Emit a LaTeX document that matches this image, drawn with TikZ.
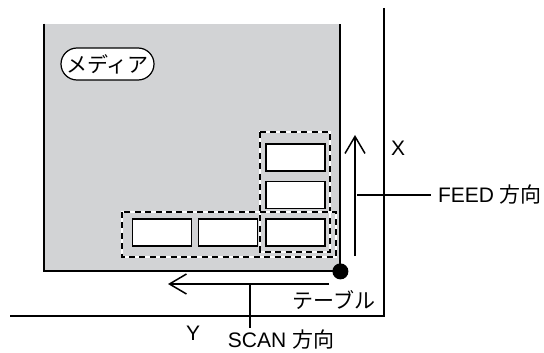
\documentclass[tikz,border=0pt]{standalone}
\usepackage{fontspec}
\setmainfont{Liberation Sans}
\newfontfamily\jp{Noto Sans CJK JP}
\usetikzlibrary{positioning,arrows.meta}
\definecolor{mediagray}{RGB}{210,211,213}

\begin{document}
\begin{tikzpicture}[
    x=0.5pt, y=-0.5pt,
    every node/.style={font=\fontsize{10.5}{12}\selectfont},
    medium/.style={fill=mediagray, minimum width=148pt, minimum height=123.5pt, inner sep=0pt},
    cell/.style={draw, fill=white, line width=0.6pt, minimum width=29.5pt, minimum height=13.5pt, inner sep=0pt},
    grp/.style={draw, line width=0.6pt, dash pattern=on 3pt off 2.2pt,
                preaction={draw=white, solid, line width=1.2pt}},
    pill/.style={draw, fill=white, line width=0.6pt, rounded corners=8pt,
                 minimum width=46.5pt, minimum height=16pt, inner sep=0pt},
    dot/.style={circle, fill=black, minimum size=8pt, inner sep=0pt},
    tableline/.style={line width=0.7pt},
    dirarrow/.style={-{Straight Barb[length=8.5pt, width=10pt, line width=0.75pt]}, line width=0.75pt},
    leader/.style={line width=1.3pt},
]
  \useasboundingbox (0,0) rectangle (544,352);
  % Table
  \coordinate (tabletop) at (384,8);
  \coordinate (tableleft) at (10,316);
  \draw[tableline] (tabletop) |- (tableleft);
  % Media
  \node[medium] (media) at (192,147.5) {};
  \draw[line width=1pt] (media.north west) |- (media.south east) -- (media.north east);
  \node[pill] (medlbl) at (107.5,64) {\jp メディア};
  % Cells
  \node[cell] (c1) at (162,232.5) {};
  \node[cell] (c2) at (228,232.5) {};
  \node[cell] (c3) at (295.5,232.5) {};
  \node[cell] (c4) at (295.5,195) {};
  \node[cell] (c5) at (295.5,157.5) {};
  % Groups (dashed)
  \draw[grp] (260,132) rectangle (330,252);
  \draw[grp] (122,212) rectangle (336,257);
  % Origin
  \node[dot] (origin) at (media.south east) {};
  % Directions
  \coordinate (scanR) at (329,284);
  \coordinate (scanL) at (168,284);
  \draw[dirarrow] (scanR) -- (scanL);
  \coordinate (feedB) at (355,256);
  \coordinate (feedT) at (355,135);
  \draw[dirarrow] (feedB) -- (feedT);
  % Labels
  \node (xlbl) at (398,148) {X};
  \node (ylbl) at (193,333) {Y};
  \node (tbllbl) at (334,300) {\jp テーブル};
  \node[anchor=west] (feedlbl) at (431,195) {FEED {\jp 方向}};
  \node[inner sep=1pt] (scanlbl) at (281,340) {SCAN {\jp 方向}};
  \coordinate (scanpt) at (250,284);
  \draw[leader] ([xshift=1pt]feedB |- feedlbl.west) -- (feedlbl.west);
  \draw[leader] (scanpt) -- (scanpt |- scanlbl.north);
\end{tikzpicture}
\end{document}
